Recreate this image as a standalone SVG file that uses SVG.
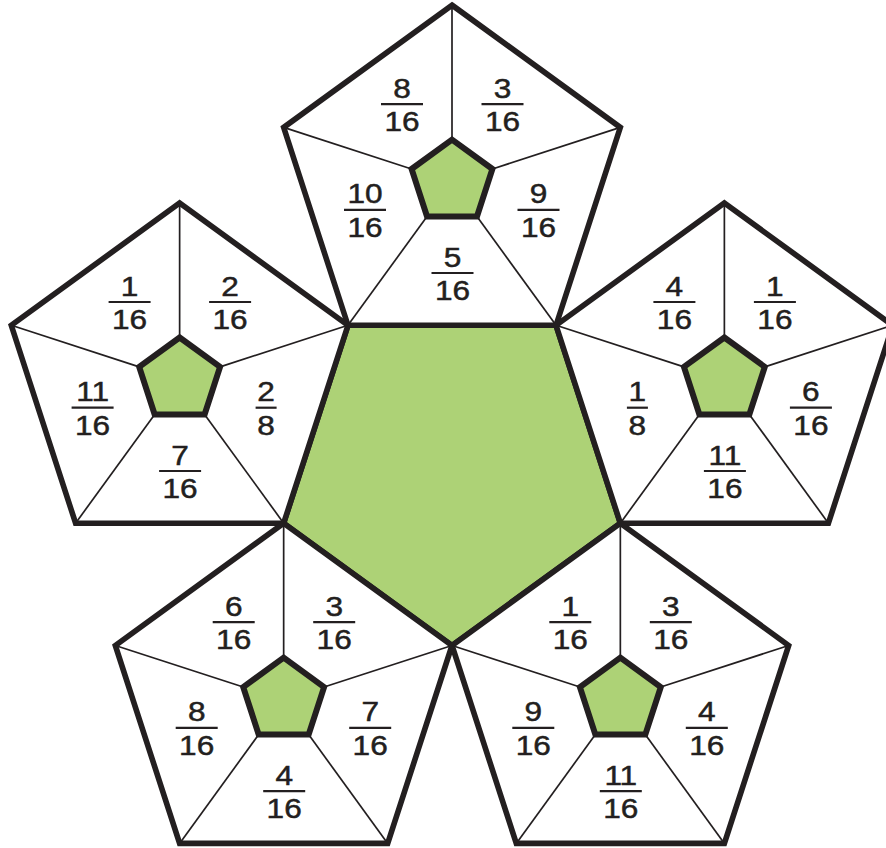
<svg xmlns="http://www.w3.org/2000/svg" xmlns:xlink="http://www.w3.org/1999/xlink" width="886" height="848" viewBox="0 0 886 848">
<style>
.outer{fill:#fff;stroke:#231f20;stroke-width:5.6;stroke-linejoin:miter}
.spoke{stroke:#231f20;stroke-width:1.7}
.small{fill:#add276;stroke:#231f20;stroke-width:6;stroke-linejoin:miter}
.center{fill:#add276;stroke:#231f20;stroke-width:5.6}
.bar{stroke:#231f20;stroke-width:2.2}
text{font-family:"Liberation Sans",Arial,sans-serif;font-size:28.5px;fill:#231f20;stroke:#231f20;stroke-width:0.5;text-anchor:middle}
</style>
<defs>
<g id="petal">
<polygon class="outer" points="0,-177 168.34,-54.7 104.04,143.2 -104.04,143.2 -168.34,-54.7"/>
<line class="spoke" x1="0" y1="-42.5" x2="0" y2="-177"/>
<line class="spoke" x1="40.42" y1="-13.13" x2="168.34" y2="-54.7"/>
<line class="spoke" x1="24.98" y1="34.38" x2="104.04" y2="143.2"/>
<line class="spoke" x1="-24.98" y1="34.38" x2="-104.04" y2="143.2"/>
<line class="spoke" x1="-40.42" y1="-13.13" x2="-168.34" y2="-54.7"/>
<polygon class="small" points="0,-42.5 40.42,-13.13 24.98,34.38 -24.98,34.38 -40.42,-13.13"/>
</g>
<line id="b2" class="bar" x1="-21" y1="0" x2="21" y2="0"/>
<line id="b1" class="bar" x1="-10.5" y1="0" x2="10.5" y2="0"/>
</defs>

<g id="center-pentagon">
<polygon class="center" points="620.34,523.2 452,645.5 283.66,523.2 347.96,325.3 556.04,325.3"/>
</g>

<g id="connectors"></g>

<g id="petal-top" transform="translate(452,182.11)"><use xlink:href="#petal"/></g>
<g id="petal-left" transform="translate(179.63,380)"><use xlink:href="#petal"/></g>
<g id="petal-right" transform="translate(724.37,380)"><use xlink:href="#petal"/></g>
<g id="petal-bottom-left" transform="translate(283.66,700.19)"><use xlink:href="#petal"/></g>
<g id="petal-bottom-right" transform="translate(620.34,700.19)"><use xlink:href="#petal"/></g>

<g id="labels-top">
<g transform="translate(402,104.1)"><use xlink:href="#b2"/><g transform="scale(1.11,1)"><text y="-6.5">8</text><text y="27">16</text></g></g>
<g transform="translate(502.5,104.1)"><use xlink:href="#b2"/><g transform="scale(1.11,1)"><text y="-6.5">3</text><text y="27">16</text></g></g>
<g transform="translate(538.5,209.8)"><use xlink:href="#b2"/><g transform="scale(1.11,1)"><text y="-6.5">9</text><text y="27">16</text></g></g>
<g transform="translate(365,209.8)"><use xlink:href="#b2"/><g transform="scale(1.11,1)"><text y="-6.5">10</text><text y="27">16</text></g></g>
<g transform="translate(452.5,273)"><use xlink:href="#b2"/><g transform="scale(1.11,1)"><text y="-6.5">5</text><text y="27">16</text></g></g>
</g>

<g id="labels-left">
<g transform="translate(129.6,302)"><use xlink:href="#b2"/><g transform="scale(1.11,1)"><text y="-6.5">1</text><text y="27">16</text></g></g>
<g transform="translate(230.1,302)"><use xlink:href="#b2"/><g transform="scale(1.11,1)"><text y="-6.5">2</text><text y="27">16</text></g></g>
<g transform="translate(266.1,407.7)"><use xlink:href="#b1"/><g transform="scale(1.11,1)"><text y="-6.5">2</text><text y="27">8</text></g></g>
<g transform="translate(92.6,407.7)"><use xlink:href="#b2"/><g transform="scale(1.11,1)"><text y="-6.5">11</text><text y="27">16</text></g></g>
<g transform="translate(180.1,471)"><use xlink:href="#b2"/><g transform="scale(1.11,1)"><text y="-6.5">7</text><text y="27">16</text></g></g>
</g>

<g id="labels-right">
<g transform="translate(674.4,302)"><use xlink:href="#b2"/><g transform="scale(1.11,1)"><text y="-6.5">4</text><text y="27">16</text></g></g>
<g transform="translate(774.9,302)"><use xlink:href="#b2"/><g transform="scale(1.11,1)"><text y="-6.5">1</text><text y="27">16</text></g></g>
<g transform="translate(810.9,407.7)"><use xlink:href="#b2"/><g transform="scale(1.11,1)"><text y="-6.5">6</text><text y="27">16</text></g></g>
<g transform="translate(637.4,407.7)"><use xlink:href="#b1"/><g transform="scale(1.11,1)"><text y="-6.5">1</text><text y="27">8</text></g></g>
<g transform="translate(724.9,471)"><use xlink:href="#b2"/><g transform="scale(1.11,1)"><text y="-6.5">11</text><text y="27">16</text></g></g>
</g>

<g id="labels-bottom-left">
<g transform="translate(233.7,622.2)"><use xlink:href="#b2"/><g transform="scale(1.11,1)"><text y="-6.5">6</text><text y="27">16</text></g></g>
<g transform="translate(334.2,622.2)"><use xlink:href="#b2"/><g transform="scale(1.11,1)"><text y="-6.5">3</text><text y="27">16</text></g></g>
<g transform="translate(370.2,727.9)"><use xlink:href="#b2"/><g transform="scale(1.11,1)"><text y="-6.5">7</text><text y="27">16</text></g></g>
<g transform="translate(196.7,727.9)"><use xlink:href="#b2"/><g transform="scale(1.11,1)"><text y="-6.5">8</text><text y="27">16</text></g></g>
<g transform="translate(284.2,791.2)"><use xlink:href="#b2"/><g transform="scale(1.11,1)"><text y="-6.5">4</text><text y="27">16</text></g></g>
</g>

<g id="labels-bottom-right">
<g transform="translate(570.3,622.2)"><use xlink:href="#b2"/><g transform="scale(1.11,1)"><text y="-6.5">1</text><text y="27">16</text></g></g>
<g transform="translate(670.8,622.2)"><use xlink:href="#b2"/><g transform="scale(1.11,1)"><text y="-6.5">3</text><text y="27">16</text></g></g>
<g transform="translate(706.8,727.9)"><use xlink:href="#b2"/><g transform="scale(1.11,1)"><text y="-6.5">4</text><text y="27">16</text></g></g>
<g transform="translate(533.3,727.9)"><use xlink:href="#b2"/><g transform="scale(1.11,1)"><text y="-6.5">9</text><text y="27">16</text></g></g>
<g transform="translate(620.8,791.2)"><use xlink:href="#b2"/><g transform="scale(1.11,1)"><text y="-6.5">11</text><text y="27">16</text></g></g>
</g>
</svg>
